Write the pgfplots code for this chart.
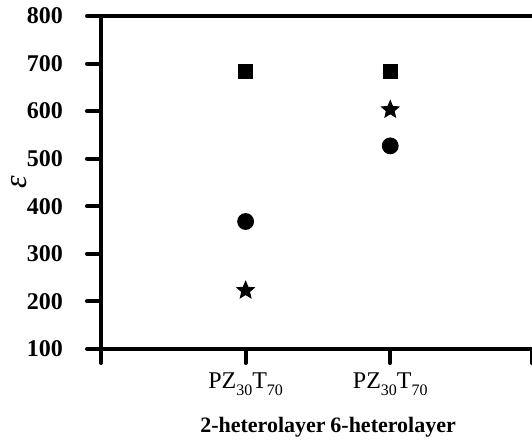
\documentclass[border=0pt]{standalone}
\usepackage{fontspec}
\setmainfont{Liberation Serif}
\usepackage{pgfplots}
\pgfplotsset{compat=1.18}
\newcommand{\sub}[1]{\raisebox{-3.5pt}{\fontsize{8}{9}\selectfont #1}}
\pgfdeclareplotmark{fstar}{%
 \pgfpathmoveto{\pgfpointpolar{90}{\pgfplotmarksize}}%
 \pgfpathlineto{\pgfpointpolar{126}{0.45\pgfplotmarksize}}%
 \pgfpathlineto{\pgfpointpolar{162}{\pgfplotmarksize}}%
 \pgfpathlineto{\pgfpointpolar{198}{0.45\pgfplotmarksize}}%
 \pgfpathlineto{\pgfpointpolar{234}{\pgfplotmarksize}}%
 \pgfpathlineto{\pgfpointpolar{270}{0.45\pgfplotmarksize}}%
 \pgfpathlineto{\pgfpointpolar{306}{\pgfplotmarksize}}%
 \pgfpathlineto{\pgfpointpolar{342}{0.45\pgfplotmarksize}}%
 \pgfpathlineto{\pgfpointpolar{18}{\pgfplotmarksize}}%
 \pgfpathlineto{\pgfpointpolar{54}{0.45\pgfplotmarksize}}%
 \pgfpathclose
 \pgfusepathqfillstroke}
\begin{document}
\begin{tikzpicture}
\useasboundingbox (-50.5pt,-46.5pt) rectangle (215.5pt,174.5pt);
\begin{axis}[
 at={(0,0)}, anchor=south west,
 scale only axis, width=215.5pt, height=166.5pt,
 xmin=0, xmax=2.98, ymin=100, ymax=800,
 axis lines=left, axis line style={-, line width=2pt},
 ytick={100,200,...,800},
 xtick={0,1,2,2.98},
 xticklabels={,PZ\sub{30}T\sub{70},PZ\sub{30}T\sub{70},},
 tick align=outside, major tick length=7pt,
 every tick/.style={line width=2pt, line cap=round, black},
 /pgf/number format/assume math mode=true,
 yticklabel style={font=\fontsize{12}{14}\selectfont\bfseries, xshift=-8.5pt},
 xticklabel style={font=\fontsize{12}{14}\selectfont, anchor=base, yshift=-13pt},
 clip=false,
]
\addplot[only marks, mark=square*, mark size=3.5pt, black] coordinates {(1,683) (2,683)};
\addplot[only marks, mark=*, mark size=4pt, black] coordinates {(1,368) (2,527)};
\addplot[only marks, mark=fstar, mark size=4.6pt, black] coordinates {(1,223) (2,603)};
\draw[line width=2pt] (rel axis cs:0,1) -- (rel axis cs:1,1);
\node[font=\fontsize{11}{13}\selectfont\bfseries, anchor=base, yshift=-42pt] at (axis cs:1.12,100) {2-heterolayer};
\node[font=\fontsize{11}{13}\selectfont\bfseries, anchor=base, yshift=-42pt] at (axis cs:2.02,100) {6-heterolayer};
\node[font=\fontsize{16}{18}\selectfont\itshape, xshift=-41pt, inner sep=0pt, rotate=90] at (axis cs:0,450) {ε};
\end{axis}
\end{tikzpicture}
\end{document}
